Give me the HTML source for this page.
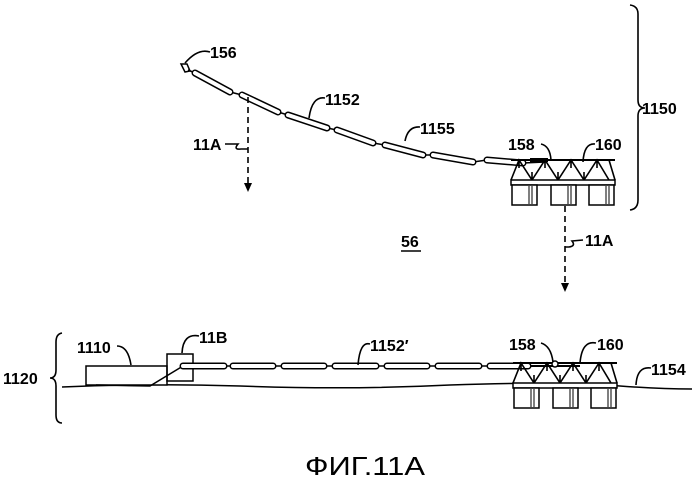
<!DOCTYPE html>
<html><head><meta charset="utf-8"><style>
html,body{margin:0;padding:0;background:#fff;}
svg{display:block;}
text{font-family:"Liberation Sans",sans-serif;font-weight:bold;font-size:16px;fill:#000;}
</style></head><body>
<svg width="699" height="484" viewBox="0 0 699 484" xmlns="http://www.w3.org/2000/svg">
<defs>
<g id="plat">
  <line x1="0" y1="0" x2="104" y2="0" stroke="#000" stroke-width="2"/>
  <path d="M0,20 L8,0 L21,20 L34,0 L47,20 L60,0 L73,20 L86,0 L98,20 M98,0 L104,20 M21,20 V12 M47,20 V12 M73,20 V12 M8,0 V8 M34,0 V8 M60,0 V8 M86,0 V8" stroke="#000" stroke-width="1.6" fill="none"/>
  <rect x="0" y="20" width="104" height="5" fill="#fff" stroke="#000" stroke-width="1.5"/>
  <rect x="1" y="25" width="25" height="20" fill="#fff" stroke="#000" stroke-width="1.5"/>
  <rect x="40" y="25" width="25" height="20" fill="#fff" stroke="#000" stroke-width="1.5"/>
  <rect x="78" y="25" width="25" height="20" fill="#fff" stroke="#000" stroke-width="1.5"/>
  <path d="M18,26 V44 M21,26 V44 M57,26 V44 M60,26 V44 M95,26 V44 M98,26 V44" stroke="#555" stroke-width="1.5"/>
</g>
</defs>
<g stroke="#000" fill="#fff" stroke-width="1.5">
<polygon points="181,64 187,64 190,71 185,72" fill="#fff"/>
<path d="M188,70 L195,73 M230,92 L242,95 M278,112 L288,115 M327,128 L337,130 M373,143 L385,145 M423,155 L433,155 M473,162 L487,160 M523,163 L545,162" fill="none"/>
<g stroke-linecap="round">
<g stroke-width="7">
<line x1="195" y1="73" x2="230" y2="92"/><line x1="242" y1="95" x2="278" y2="112"/><line x1="288" y1="115" x2="327" y2="128"/><line x1="337" y1="130" x2="373" y2="143"/><line x1="385" y1="145" x2="423" y2="155"/><line x1="433" y1="155" x2="473" y2="162"/><line x1="487" y1="160" x2="523" y2="163"/>
</g>
<g stroke="#fff" stroke-width="4">
<line x1="195" y1="73" x2="230" y2="92"/><line x1="242" y1="95" x2="278" y2="112"/><line x1="288" y1="115" x2="327" y2="128"/><line x1="337" y1="130" x2="373" y2="143"/><line x1="385" y1="145" x2="423" y2="155"/><line x1="433" y1="155" x2="473" y2="162"/><line x1="487" y1="160" x2="523" y2="163"/>
</g>
</g>
</g>
<use href="#plat" x="511" y="160"/>
<rect x="530" y="158" width="18" height="4" fill="#000"/>
<g stroke="#000" stroke-width="1.6" fill="none">
<line x1="248" y1="97" x2="248" y2="184" stroke-dasharray="6,4"/>
<line x1="565" y1="206" x2="565" y2="285" stroke-dasharray="6,4"/>
<path d="M225,144 L238,144 Q233,150 241,149 L248,149"/>
<path d="M583,240 L572,241 Q576,246 569,247 L565,247"/>
<path d="M185,63 Q198,48 210,52"/>
<path d="M309,118 Q312,96 325,98"/>
<path d="M405,141 Q408,126 420,127"/>
<path d="M541,144 Q550,146 551,160"/>
<path d="M583,162 Q584,143 595,144"/>
<path d="M630,5 Q638,6 638,14 L638,100 Q638,108 645,108 Q638,108 638,116 L638,200 Q638,209 630,210"/>
</g>
<polygon points="244,183 252,183 248,192" fill="#000"/>
<polygon points="561,283 569,283 565,292" fill="#000"/>
<text x="210" y="58">156</text>
<text x="325" y="105">1152</text>
<text x="420" y="134">1155</text>
<text x="193" y="150">11A</text>
<text x="508" y="150">158</text>
<text x="595" y="150">160</text>
<text x="642" y="114">1150</text>
<text x="401" y="247">56</text>
<line x1="401" y1="251" x2="421" y2="251" stroke="#000" stroke-width="1.5"/>
<text x="585" y="246">11A</text>
<path d="M62,387 Q150,383 240,386 Q350,390 450,385 Q560,381 620,386 Q660,389 692,389" stroke="#000" stroke-width="1.5" fill="none"/>
<rect x="86" y="366" width="81" height="19" fill="#fff" stroke="#000" stroke-width="1.5"/>
<path d="M96,385 L150,386 L183,366" stroke="#000" stroke-width="1.5" fill="none"/>
<rect x="167" y="354" width="26" height="27" fill="none" stroke="#000" stroke-width="1.5"/>
<g stroke="#000" stroke-width="1.5">
<path d="M224,366 H233 M273,366 H284 M324,366 H335 M376,366 H387 M427,366 H438 M479,366 H490 M528,366 H545"/>
<g stroke-width="7" stroke-linecap="round">
<path d="M183,366 H224 M233,366 H273 M284,366 H324 M335,366 H376 M387,366 H427 M438,366 H479 M490,366 H528"/>
</g>
<g stroke="#fff" stroke-width="4" stroke-linecap="round">
<path d="M183,366 H224 M233,366 H273 M284,366 H324 M335,366 H376 M387,366 H427 M438,366 H479 M490,366 H528"/>
</g>
</g>
<use href="#plat" x="513" y="363"/>
<path d="M530,366 H580" stroke="#000" stroke-width="2"/>
<circle cx="555" cy="364" r="3" fill="#fff" stroke="#000" stroke-width="1.4"/>
<g stroke="#000" stroke-width="1.6" fill="none">
<path d="M62,333 Q56,334 56,342 L56,370 Q56,378 50,378 Q56,378 56,386 L56,415 Q56,423 62,423"/>
<path d="M117,346 Q128,346 131,365"/>
<path d="M182,353 Q183,333 199,336"/>
<path d="M358,365 Q360,341 370,344"/>
<path d="M541,343 Q551,346 553,362"/>
<path d="M580,363 Q582,340 596,343"/>
<path d="M636,385 Q637,366 651,368"/>
</g>
<text x="77" y="353">1110</text>
<text x="199" y="343">11B</text>
<text x="370" y="351">1152′</text>
<text x="509" y="350">158</text>
<text x="597" y="350">160</text>
<text x="651" y="375">1154</text>
<text x="3" y="384">1120</text>
<text x="305" y="475" style="font-weight:normal;font-size:26px" textLength="120" lengthAdjust="spacingAndGlyphs">ФИГ.11А</text>
</svg>
</body></html>
